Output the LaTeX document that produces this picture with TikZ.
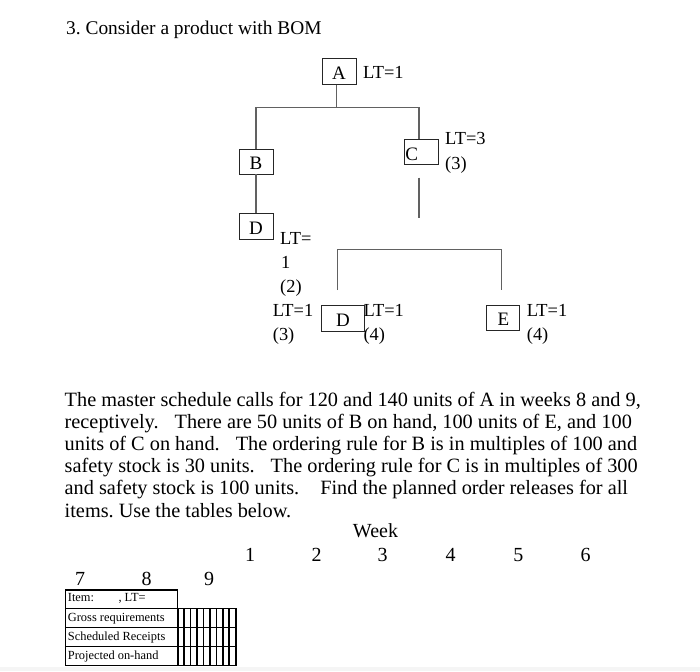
\documentclass[tikz,border=0pt]{standalone}
\usepackage{fontspec}
\setmainfont{Liberation Serif}
\begin{document}
\frenchspacing
\begin{tikzpicture}[x=1pt,y=-1pt,
  box/.style={draw=black!85,line width=0.95pt,inner sep=0pt,text height=16pt,text depth=0pt,font=\fontsize{19}{21}\selectfont},
  conn/.style={draw=black!62,line width=1.2pt},
  lbl/.style={anchor=base west,inner sep=0pt,font=\fontsize{18.4}{20}\selectfont},
  para/.style={anchor=base west,inner sep=0pt,font=\fontsize{20.3}{22}\selectfont},
  ttl/.style={anchor=base west,inner sep=0pt,font=\fontsize{19.4}{22}\selectfont},
  num/.style={anchor=base,inner sep=0pt,font=\fontsize{20}{22}\selectfont},
  tlbl/.style={anchor=base west,inner sep=0pt,font=\fontsize{12.4}{14}\selectfont},
  tline/.style={line width=1.1pt},
  gline/.style={line width=1.7pt}]
\useasboundingbox (0,0) rectangle (700,671);
\fill[gray!8] (0,666.5) rectangle (700,671);

% title
\node[ttl] (title) at (66,35) {3. Consider a product with BOM};

% BOM boxes
\node[box,minimum width=34pt,minimum height=26pt] (A) at (339,71.2) {A};
\node[box,minimum width=34pt,minimum height=25pt] (B) at (256,161.5) {B};
\node[box,minimum width=34pt,minimum height=24.5pt,text width=32pt,align=left,inner xsep=1pt] (C) at (421.3,152.2) {C};
\node[box,minimum width=34pt,minimum height=25.5pt] (D1) at (256,226.7) {D};
\node[box,minimum width=42.6pt,minimum height=26pt] (D2) at (343,318) {D};
\node[box,minimum width=33.3pt,minimum height=25pt] (E) at (503.3,317.5) {E};

% connectors
\coordinate (j1) at (336.7,107.3);
\draw[conn] (A.south -| j1) -- (j1);
\draw[conn] (B.north) |- (j1) -| ([xshift=-2.3pt]C.north);
\draw[conn] (B.south) -- (D1.north);
\coordinate (c1) at (419,177.7);
\coordinate (c2) at (419,217.7);
\draw[conn] (c1) -- (c2);
\coordinate (h1) at (337.3,249.3);
\coordinate (h2) at (501.7,249.3);
\coordinate (l1) at (337.3,290);
\coordinate (l2) at (501.7,290);
\draw[conn] (l1) -- (h1) -- (h2) -- (l2);

% BOM labels
\node[lbl] (ltA) at (363,78.3) {LT=1};
\node[lbl] (ltC) at (445,145) {LT=3};
\node[lbl] (qC) at (445,169.5) {(3)};
\node[lbl] (ltD1a) at (280,244.3) {LT=};
\node[lbl] (ltD1b) at (281,268.3) {1};
\node[lbl] (qD1) at (280,292.5) {(2)};
\node[lbl] (ltL) at (272.7,316.7) {LT=1};
\node[lbl] (qL) at (272.7,340.7) {(3)};
\node[lbl] (ltD2) at (363.3,316.7) {LT=1};
\node[lbl] (qD2) at (363.3,340.7) {(4)};
\node[lbl] (ltE) at (526.7,316.7) {LT=1};
\node[lbl] (qE) at (526.7,340.7) {(4)};

% paragraph
\node[para] (p1) at (64.5,406) {The master schedule calls for 120 and 140 units of A in weeks 8 and 9,};
\node[para] (p2) at (64.5,428.2) {receptively.\hspace{16pt}There are 50 units of B on hand, 100 units of E, and 100};
\node[para] (p3) at (64.5,450.4) {units of C on hand.\hspace{16pt}The ordering rule for B is in multiples of 100 and};
\node[para] (p4) at (64.5,472.6) {safety stock is 30 units.\hspace{16pt}The ordering rule for C is in multiples of 300};
\node[para] (p5) at (64.5,494.8) {and safety stock is 100 units.\hspace{21pt}Find the planned order releases for all};
\node[para] (p6) at (64.5,517) {items. Use the tables below.};

% week header
\node[num] (week) at (375.5,537.7) {Week};
\node[num] (w1) at (250,561.7) {1};
\node[num] (w2) at (316.7,561.7) {2};
\node[num] (w3) at (382.7,561.7) {3};
\node[num] (w4) at (450.7,561.7) {4};
\node[num] (w5) at (518.3,561.7) {5};
\node[num] (w6) at (585.7,561.7) {6};
\node[num] (w7) at (80,585) {7};
\node[num] (w8) at (146.7,585) {8};
\node[num] (w9) at (209,585) {9};

% table
\draw[tline] (65.7,665.7) -- (65.7,590) -- (177.7,590) -- (177.7,608.3);
\foreach \yy in {608.3,627.3,646.7,665.7} {
  \draw[tline] (65.7,\yy) -- (235.7,\yy);
}
\foreach \i in {0,...,9} {
  \draw[gline] (177.7+\i*6.444,608.3) -- (177.7+\i*6.444,665.7);
}
\node[tlbl] (titem) at (67.7,601.7) {Item:};
\node[tlbl] (tlt) at (118.3,601.7) {, LT=};
\node[tlbl] (tgross) at (67.7,621) {Gross requirements};
\node[tlbl] (tsched) at (67.7,640.2) {Scheduled Receipts};
\node[tlbl] (tproj) at (67.7,659.4) {Projected on-hand};
\end{tikzpicture}
\end{document}
